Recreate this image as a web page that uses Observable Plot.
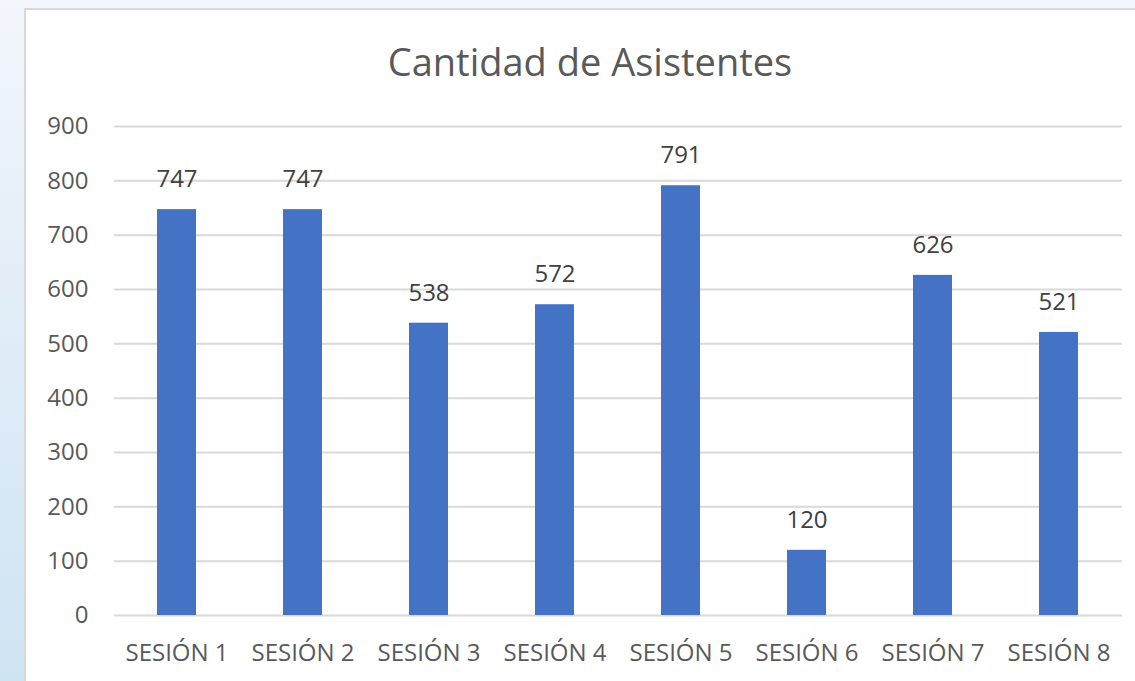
<!DOCTYPE html>
<html>
<head>
<meta charset="utf-8">
<script src="https://cdn.jsdelivr.net/npm/d3@7"></script>
<script src="https://cdn.jsdelivr.net/npm/@observablehq/plot@0.6"></script>
<style>
  html, body { margin: 0; padding: 0; width: 1135px; height: 681px; overflow: hidden; }
  body { background: linear-gradient(180deg, #f3f6fc 0%, #e3eef8 40%, #cfe4f3 100%); position: relative; font-family: "Open Sans", sans-serif; }
  #box { position: absolute; left: 24px; top: 8px; width: 1140px; height: 690px; background: #fff; border: 2px solid #d9d9d9; box-sizing: border-box; }
  #title { position: absolute; left: 24px; top: 36px; width: 1132px; text-align: center; font-size: 38px; line-height: 50px; color: #595959; font-family: "Open Sans", sans-serif; }
  #chart { position: absolute; left: 26px; top: 96px; }
  #chart svg text { font-size: 24px; }
</style>
</head>
<body>
<div id="box"></div>
<div id="title">Cantidad de Asistentes</div>
<div id="chart"></div>
<script>
const sessions = ["SESIÓN 1", "SESIÓN 2", "SESIÓN 3", "SESIÓN 4", "SESIÓN 5", "SESIÓN 6", "SESIÓN 7", "SESIÓN 8"];
const attendees = [747, 747, 538, 572, 791, 120, 626, 521];
const yTicks = [0, 100, 200, 300, 400, 500, 600, 700, 800, 900];

const data = sessions.map((s, i) => ({session: s, value: attendees[i]}));

const chart = Plot.plot({
  width: 1109,
  height: 585,
  marginLeft: 88,
  marginRight: 13,
  marginTop: 30,
  marginBottom: 66,
  style: {fontFamily: "Open Sans, sans-serif", fontSize: "24px", color: "#595959", background: "transparent", overflow: "visible"},
  x: {domain: sessions, paddingInner: 0.69, paddingOuter: 0.345, label: null, tickSize: 0, tickPadding: 28},
  y: {domain: [0, 900], ticks: yTicks, label: null, tickSize: 0, tickPadding: 26},
  marks: [
    Plot.gridY(yTicks, {stroke: "#d9d9d9", strokeOpacity: 1, strokeWidth: 2}),
    Plot.barY(data, {x: "session", y: "value", fill: "#4472c4"}),
    Plot.text(data, {x: "session", y: "value", text: d => String(d.value), dy: -30, fill: "#404040", fontSize: 24})
  ]
});
document.getElementById("chart").appendChild(chart);
</script>
</body>
</html>
